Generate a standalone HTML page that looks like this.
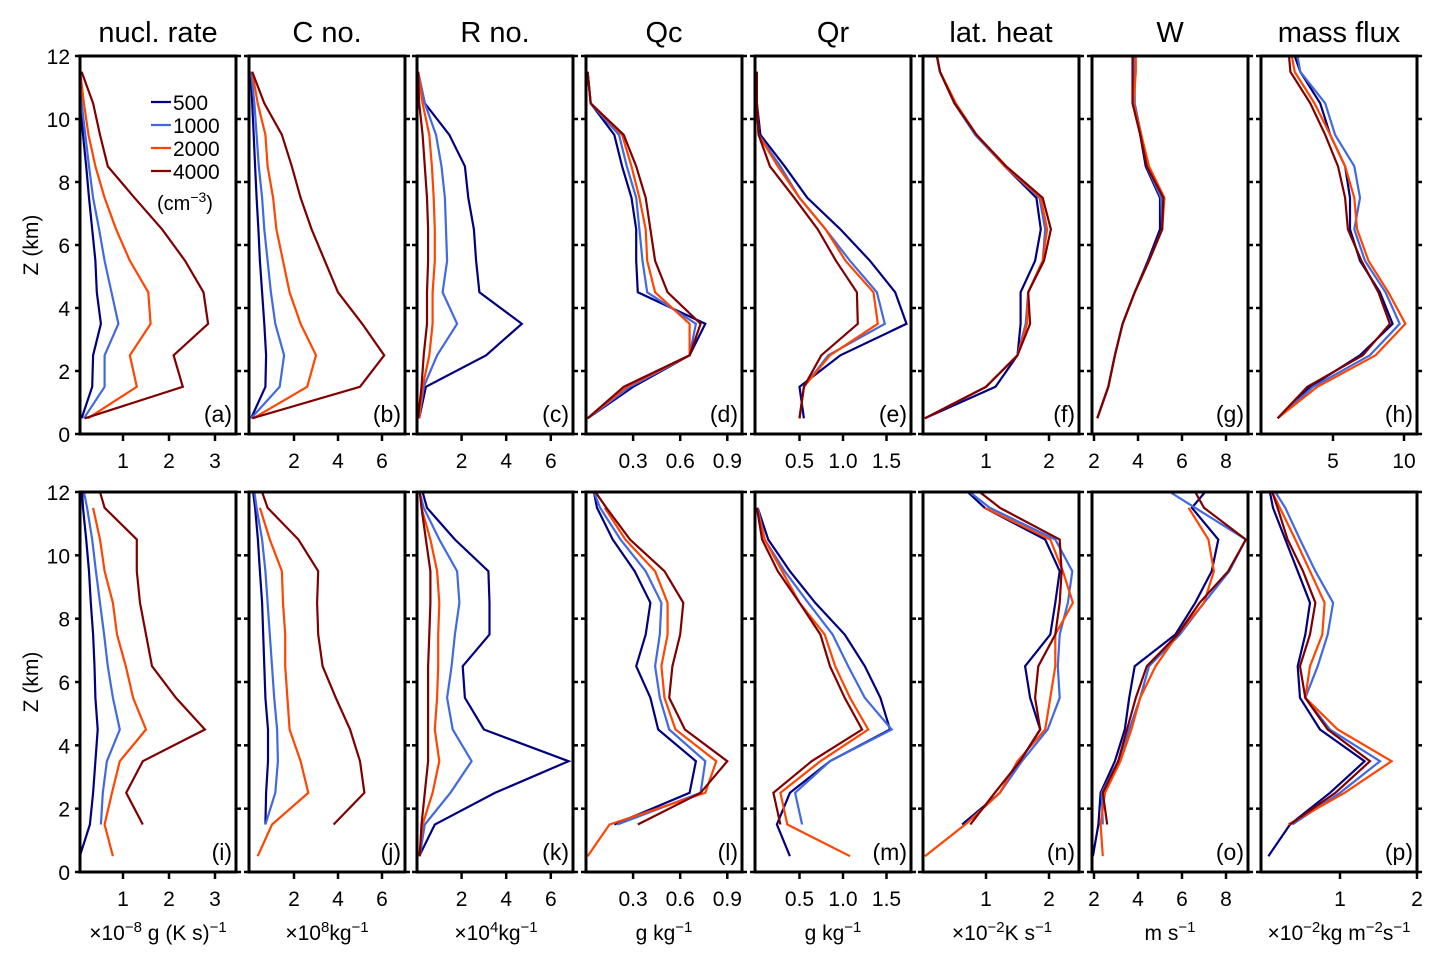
<!DOCTYPE html>
<html><head><meta charset="utf-8"><style>
html,body{margin:0;padding:0;background:#fff}
svg{display:block;font-family:"Liberation Sans",sans-serif}
</style></head><body>
<svg id="chart" width="1447" height="964" viewBox="0 0 1447 964" xmlns="http://www.w3.org/2000/svg"></svg>
<script>
const Z = [0.5,1.5,2.5,3.5,4.5,5.5,6.5,7.5,8.5,9.5,10.5,11.5,12];
const seriesLabels = ["500","1000","2000","4000"];
const colors = ["#000080","#4169E1","#FF4500","#800000"];
const yTicks = [0,2,4,6,8,10,12];
const titles = ["nucl. rate","C no.","R no.","Qc","Qr","lat. heat","W","mass flux"];
const N = null;
const panelA = [[0.1,0.33,0.35,0.52,0.43,0.4,0.33,0.26,0.2,0.13,0.08,0.05,N],[0.15,0.6,0.6,0.9,0.75,0.6,0.48,0.35,0.26,0.18,0.1,0.06,N],[0.24,1.3,1.15,1.6,1.55,1.15,0.85,0.6,0.4,0.25,0.15,0.07,N],[0.17,2.3,2.1,2.85,2.75,2.35,1.85,1.25,0.67,0.5,0.35,0.1,N]];
const panelB = [[0.05,0.7,0.73,0.65,0.55,0.45,0.38,0.3,0.23,0.17,0.1,0.05,N],[0.05,1.35,1.55,1.15,0.95,0.8,0.65,0.55,0.4,0.3,0.2,0.05,N],[0.15,2.6,3.0,2.3,1.8,1.5,1.2,1.05,0.8,0.7,0.35,0.1,N],[0.1,5.0,6.1,5.1,4.0,3.4,2.8,2.3,1.9,1.45,0.65,0.1,N]];
const panelC = [[0.1,0.4,3.1,4.7,2.8,2.65,2.55,2.3,2.15,1.45,0.35,0.05,N],[0.1,0.3,0.9,1.8,1.15,1.35,1.3,1.25,1.1,0.85,0.35,0.05,N],[0.1,0.25,0.55,0.7,0.7,0.8,0.8,0.75,0.67,0.55,0.25,0.05,N],[0.05,0.2,0.3,0.45,0.45,0.5,0.5,0.45,0.35,0.25,0.1,0.05,N]];
const panelD = [[0.01,0.3,0.66,0.76,0.33,0.32,0.32,0.29,0.23,0.18,0.03,0.01,N],[0.01,0.28,0.66,0.7,0.39,0.36,0.34,0.32,0.26,0.21,0.03,0.01,N],[0.01,0.26,0.66,0.66,0.44,0.39,0.38,0.34,0.29,0.23,0.03,0.01,N],[0.01,0.24,0.66,0.73,0.52,0.44,0.41,0.38,0.32,0.24,0.03,0.01,N]];
const panelE = [[0.55,0.5,0.97,1.73,1.6,1.31,0.97,0.59,0.33,0.05,0.01,0.01,N],[0.5,0.55,0.83,1.48,1.39,1.08,0.8,0.5,0.28,0.03,0.01,0.01,N],[0.5,0.55,0.85,1.4,1.35,1.03,0.8,0.5,0.25,0.03,0.01,0.01,N],[0.5,0.55,0.75,1.17,1.16,0.92,0.71,0.44,0.16,0.03,0.01,0.01,N]];
const panelF = [[0.03,1.15,1.5,1.55,1.55,1.78,1.87,1.8,1.3,0.83,0.5,0.27,0.22],[0.03,1.0,1.5,1.63,1.67,1.9,1.94,1.85,1.3,0.83,0.5,0.27,0.22],[0.03,1.0,1.5,1.65,1.67,1.9,1.97,1.87,1.3,0.85,0.52,0.27,0.22],[0.03,1.0,1.5,1.7,1.67,1.92,2.03,1.9,1.32,0.85,0.5,0.27,0.22]];
const panelG = [[2.15,2.65,2.95,3.3,3.85,4.45,5.0,5.0,4.35,4.1,3.8,3.8,3.8],[2.15,2.65,2.95,3.3,3.85,4.5,5.1,5.05,4.4,4.15,3.85,3.85,3.85],[2.15,2.65,2.95,3.3,3.85,4.5,5.1,5.2,4.5,4.15,3.8,3.9,3.9],[2.15,2.65,2.95,3.3,3.85,4.5,5.1,5.15,4.4,4.1,3.75,3.75,3.75]];
const panelH = [[1.1,3.4,6.9,9.2,8.3,6.9,6.2,6.2,5.85,4.8,4.1,2.7,2.3],[1.1,3.6,7.6,9.7,8.7,7.25,6.5,6.9,6.5,5.15,4.45,2.7,2.5],[1.1,3.9,8.0,10.1,8.9,7.5,6.7,6.5,5.85,4.8,3.7,2.3,2.1],[1.1,3.2,7.1,9.0,8.2,7.0,6.05,5.85,5.35,4.45,3.4,2.0,1.9]];
const panelI = [[0.06,0.28,0.35,0.4,0.45,0.4,0.38,0.35,0.3,0.26,0.2,0.13,0.11],[N,0.52,0.56,0.65,0.93,0.78,0.67,0.59,0.5,0.41,0.33,0.22,0.15],[0.78,0.6,0.76,0.93,1.5,1.22,1.06,0.87,0.78,0.6,0.5,0.35,N],[N,1.43,1.07,1.43,2.78,2.15,1.63,1.5,1.37,1.3,1.3,0.6,0.5]];
const panelJ = [[N,0.7,0.73,0.82,0.82,0.7,0.65,0.6,0.55,0.45,0.36,0.23,0.14],[N,0.7,1.15,1.27,1.23,1.1,1.0,0.9,0.8,0.7,0.55,0.3,0.2],[0.35,1.0,2.65,2.3,1.8,1.7,1.6,1.6,1.5,1.45,0.9,0.45,N],[N,3.8,5.2,5.0,4.55,3.9,3.3,3.1,3.05,3.1,2.2,0.8,0.55]];
const panelK = [[0.1,0.8,3.5,6.8,3.0,2.15,2.05,3.25,3.25,3.2,1.7,0.45,0.25],[0.12,0.35,1.5,2.45,1.6,1.35,1.55,1.7,1.9,1.8,1.0,0.3,0.12],[0.1,0.25,0.7,1.0,0.8,0.9,0.95,0.95,1.0,0.9,0.6,0.2,N],[0.12,0.2,0.35,0.5,0.5,0.5,0.5,0.55,0.6,0.6,0.4,0.2,0.12]];
const panelL = [[N,0.18,0.66,0.7,0.46,0.41,0.32,0.38,0.41,0.31,0.17,0.07,0.05],[N,0.2,0.73,0.76,0.53,0.47,0.44,0.47,0.48,0.38,0.22,0.09,0.05],[0.01,0.15,0.76,0.83,0.57,0.5,0.48,0.52,0.52,0.44,0.25,0.12,N],[N,0.33,0.73,0.9,0.63,0.53,0.55,0.6,0.62,0.5,0.28,0.13,0.06]];
const panelM = [[0.39,0.24,0.39,0.85,1.54,1.43,1.25,1.02,0.68,0.39,0.14,0.02,N],[N,0.53,0.45,0.85,1.56,1.25,1.06,0.88,0.6,0.33,0.1,0.02,N],[1.08,0.36,0.28,0.74,1.29,1.08,0.91,0.79,0.5,0.3,0.1,0.01,N],[N,0.28,0.2,0.64,1.22,1.02,0.85,0.74,0.5,0.25,0.07,0.01,N]];
const panelN = [[N,0.62,1.22,1.54,1.86,1.7,1.62,2.02,2.1,2.17,1.94,0.98,0.71],[N,0.67,1.22,1.57,1.98,2.17,2.14,2.17,2.3,2.37,2.1,1.06,0.74],[0.03,0.67,1.22,1.5,1.94,2.02,2.1,2.1,2.38,2.22,2.02,0.98,N],[N,0.75,1.14,1.54,1.86,1.78,1.83,2.1,2.17,2.2,2.17,1.22,0.9]];
const panelO = [[1.95,2.2,2.3,2.95,3.4,3.6,3.85,5.7,6.6,7.35,7.65,6.45,7.05],[N,2.4,2.35,3.1,3.6,4.1,4.5,5.9,7.0,8.15,8.9,6.6,5.45],[2.4,2.3,2.5,3.2,3.7,4.1,4.8,5.8,7.0,7.45,7.2,6.3,N],[N,2.6,2.4,3.1,3.5,3.9,4.4,5.8,6.8,8.1,8.9,7.0,6.6]];
const panelP = [[0.07,0.35,0.87,1.32,0.74,0.48,0.45,0.55,0.61,0.45,0.29,0.13,0.09],[N,0.38,1.0,1.52,0.87,0.55,0.71,0.84,0.91,0.68,0.48,0.29,0.16],[N,0.33,1.06,1.67,0.97,0.55,0.61,0.77,0.8,0.61,0.42,0.22,0.12],[N,0.35,0.94,1.39,0.84,0.55,0.48,0.61,0.68,0.52,0.32,0.19,0.12]];
const xTicksTop = [[1,2,3],[2,4,6],[2,4,6],[0.3,0.6,0.9],[0.5,1.0,1.5],[1,2],[2,4,6,8],[5,10]];
const xTickLabelsTop = [["1","2","3"],["2","4","6"],["2","4","6"],["0.3","0.6","0.9"],["0.5","1.0","1.5"],["1","2"],["2","4","6","8"],["5","10"]];
const xTicksBottomLast = [1,2];

const svg = document.getElementById('chart');
const NS = 'http://www.w3.org/2000/svg';
function mk(tag, attrs, parent){const e=document.createElementNS(NS,tag);for(const k in attrs)e.setAttribute(k,attrs[k]);(parent||svg).appendChild(e);return e;}

// geometry (layout, not data)
const colL = [80,249,417,586,755,923,1092,1261];
const colW = 156;
// x axis: value -> pixel, per column [origin pixel, px per unit]
const xAxes = [[77,46],[250,22],[417,22.3],[586,157],[756,87],[923,63],[1050,22],[1262,14.2]];
const xAxesBottomLast = [1263,77];
const rows = [{top:56,bot:434},{top:492,bot:872}];
const topData = [panelA,panelB,panelC,panelD,panelE,panelF,panelG,panelH];
const botData = [panelI,panelJ,panelK,panelL,panelM,panelN,panelO,panelP];
const letters = "abcdefghijklmnop";

function yScale(r,z){return r.bot - (r.bot-r.top)*z/12;}

for(let ri=0;ri<2;ri++){
  const r = rows[ri];
  for(let c=0;c<8;c++){
    const g = mk('g',{});
    
    
    const ax = (ri===1&&c===7)?xAxesBottomLast:xAxes[c];
    const xs = v=>ax[0]+ax[1]*v;
    const data = ri===0?topData[c]:botData[c];
    const clip = mk('clipPath',{id:'cp'+ri+c},g);
    mk('rect',{x:colL[c],y:r.top,width:colW,height:r.bot-r.top},clip);
    const lg = mk('g',{'clip-path':'url(#cp'+ri+c+')'},g);
    for(let s=0;s<4;s++){
      let d='';let pen=false;
      for(let i=0;i<Z.length;i++){
        const v=data[s][i];
        if(v===null||v===undefined){pen=false;continue;}
        d+=(pen?'L':'M')+xs(v).toFixed(1)+','+yScale(r,Z[i]).toFixed(1);pen=true;
      }
      const p = mk('path',{d:d,fill:'none',stroke:colors[s],'stroke-width':2.2,'stroke-linejoin':'miter'},lg);
      
      
    }
    const box = mk('rect',{x:colL[c],y:r.top,width:colW,height:r.bot-r.top,fill:'none',stroke:'#000','stroke-width':3},g);
    
    
    // y ticks
    for(const t of yTicks){
      const y=yScale(r,t);
      mk('line',{x1:colL[c]-5,x2:colL[c],y1:y,y2:y,stroke:'#000','stroke-width':2.5},g);
      mk('line',{x1:colL[c]+colW,x2:colL[c]+colW+5,y1:y,y2:y,stroke:'#000','stroke-width':2.5},g);
      if(c===0){
        const tl=mk('text',{x:colL[c]-10,y:y+8,'text-anchor':'end','font-size':21},g);
        tl.textContent=t;
        
        
      }
    }
    // x ticks
    const tv = (ri===1&&c===7)?xTicksBottomLast:xTicksTop[c];
    const tlab = (ri===1&&c===7)?["1","2"]:xTickLabelsTop[c];
    tv.forEach((t,k)=>{
      const x=xs(t);
      mk('line',{x1:x,x2:x,y1:r.bot,y2:r.bot+7,stroke:'#000','stroke-width':2.5},g);
      const tl=mk('text',{x:x,y:r.bot+34,'text-anchor':'middle','font-size':21},g);
      tl.textContent=tlab[k];
      
      
    });
    const lt=mk('text',{x:colL[c]+colW-4,y:r.bot-12,'text-anchor':'end','font-size':23},g);
    lt.textContent='('+letters[ri*8+c]+')';
    
    
    if(ri===0){
      const tt=mk('text',{x:colL[c]+colW/2,y:42,'text-anchor':'middle','font-size':29},g);
      tt.textContent=titles[c];
      
      
    }
  }
  const yl=mk('text',{x:0,y:0,transform:'translate(38,'+((r.top+r.bot)/2)+') rotate(-90)','text-anchor':'middle','font-size':21});
  yl.textContent='Z (km)';
  
  
}
// legend
const leg = mk('g',{});


for(let s=0;s<4;s++){
  const y=102+s*23;
  mk('line',{x1:151,x2:171,y1:y,y2:y,stroke:colors[s],'stroke-width':2.2},leg);
  const t=mk('text',{x:173,y:y+8,'font-size':21},leg);
  t.textContent=seriesLabels[s];
  
  
}
const lu=mk('text',{x:157,y:210,'font-size':20},leg);
lu.innerHTML='(cm<tspan dy="-8" font-size="14">−3</tspan><tspan dy="8">)</tspan>';
// units
const units = [
  [158,'×10<tspan dy="-8" font-size="15">−8</tspan><tspan dy="8"> g (K s)</tspan><tspan dy="-8" font-size="15">−1</tspan>'],
  [327,'×10<tspan dy="-8" font-size="15">8</tspan><tspan dy="8">kg</tspan><tspan dy="-8" font-size="15">−1</tspan>'],
  [496,'×10<tspan dy="-8" font-size="15">4</tspan><tspan dy="8">kg</tspan><tspan dy="-8" font-size="15">−1</tspan>'],
  [664,'g kg<tspan dy="-8" font-size="15">−1</tspan>'],
  [833,'g kg<tspan dy="-8" font-size="15">−1</tspan>'],
  [1002,'×10<tspan dy="-8" font-size="15">−2</tspan><tspan dy="8">K s</tspan><tspan dy="-8" font-size="15">−1</tspan>'],
  [1170,'m s<tspan dy="-8" font-size="15">−1</tspan>'],
  [1339,'×10<tspan dy="-8" font-size="15">−2</tspan><tspan dy="8">kg m</tspan><tspan dy="-8" font-size="15">−2</tspan><tspan dy="8">s</tspan><tspan dy="-8" font-size="15">−1</tspan>']
];
units.forEach(u=>{
  const t=mk('text',{x:u[0],y:940,'text-anchor':'middle','font-size':21});
  t.innerHTML=u[1];
  
  
});
</script>
</body></html>
